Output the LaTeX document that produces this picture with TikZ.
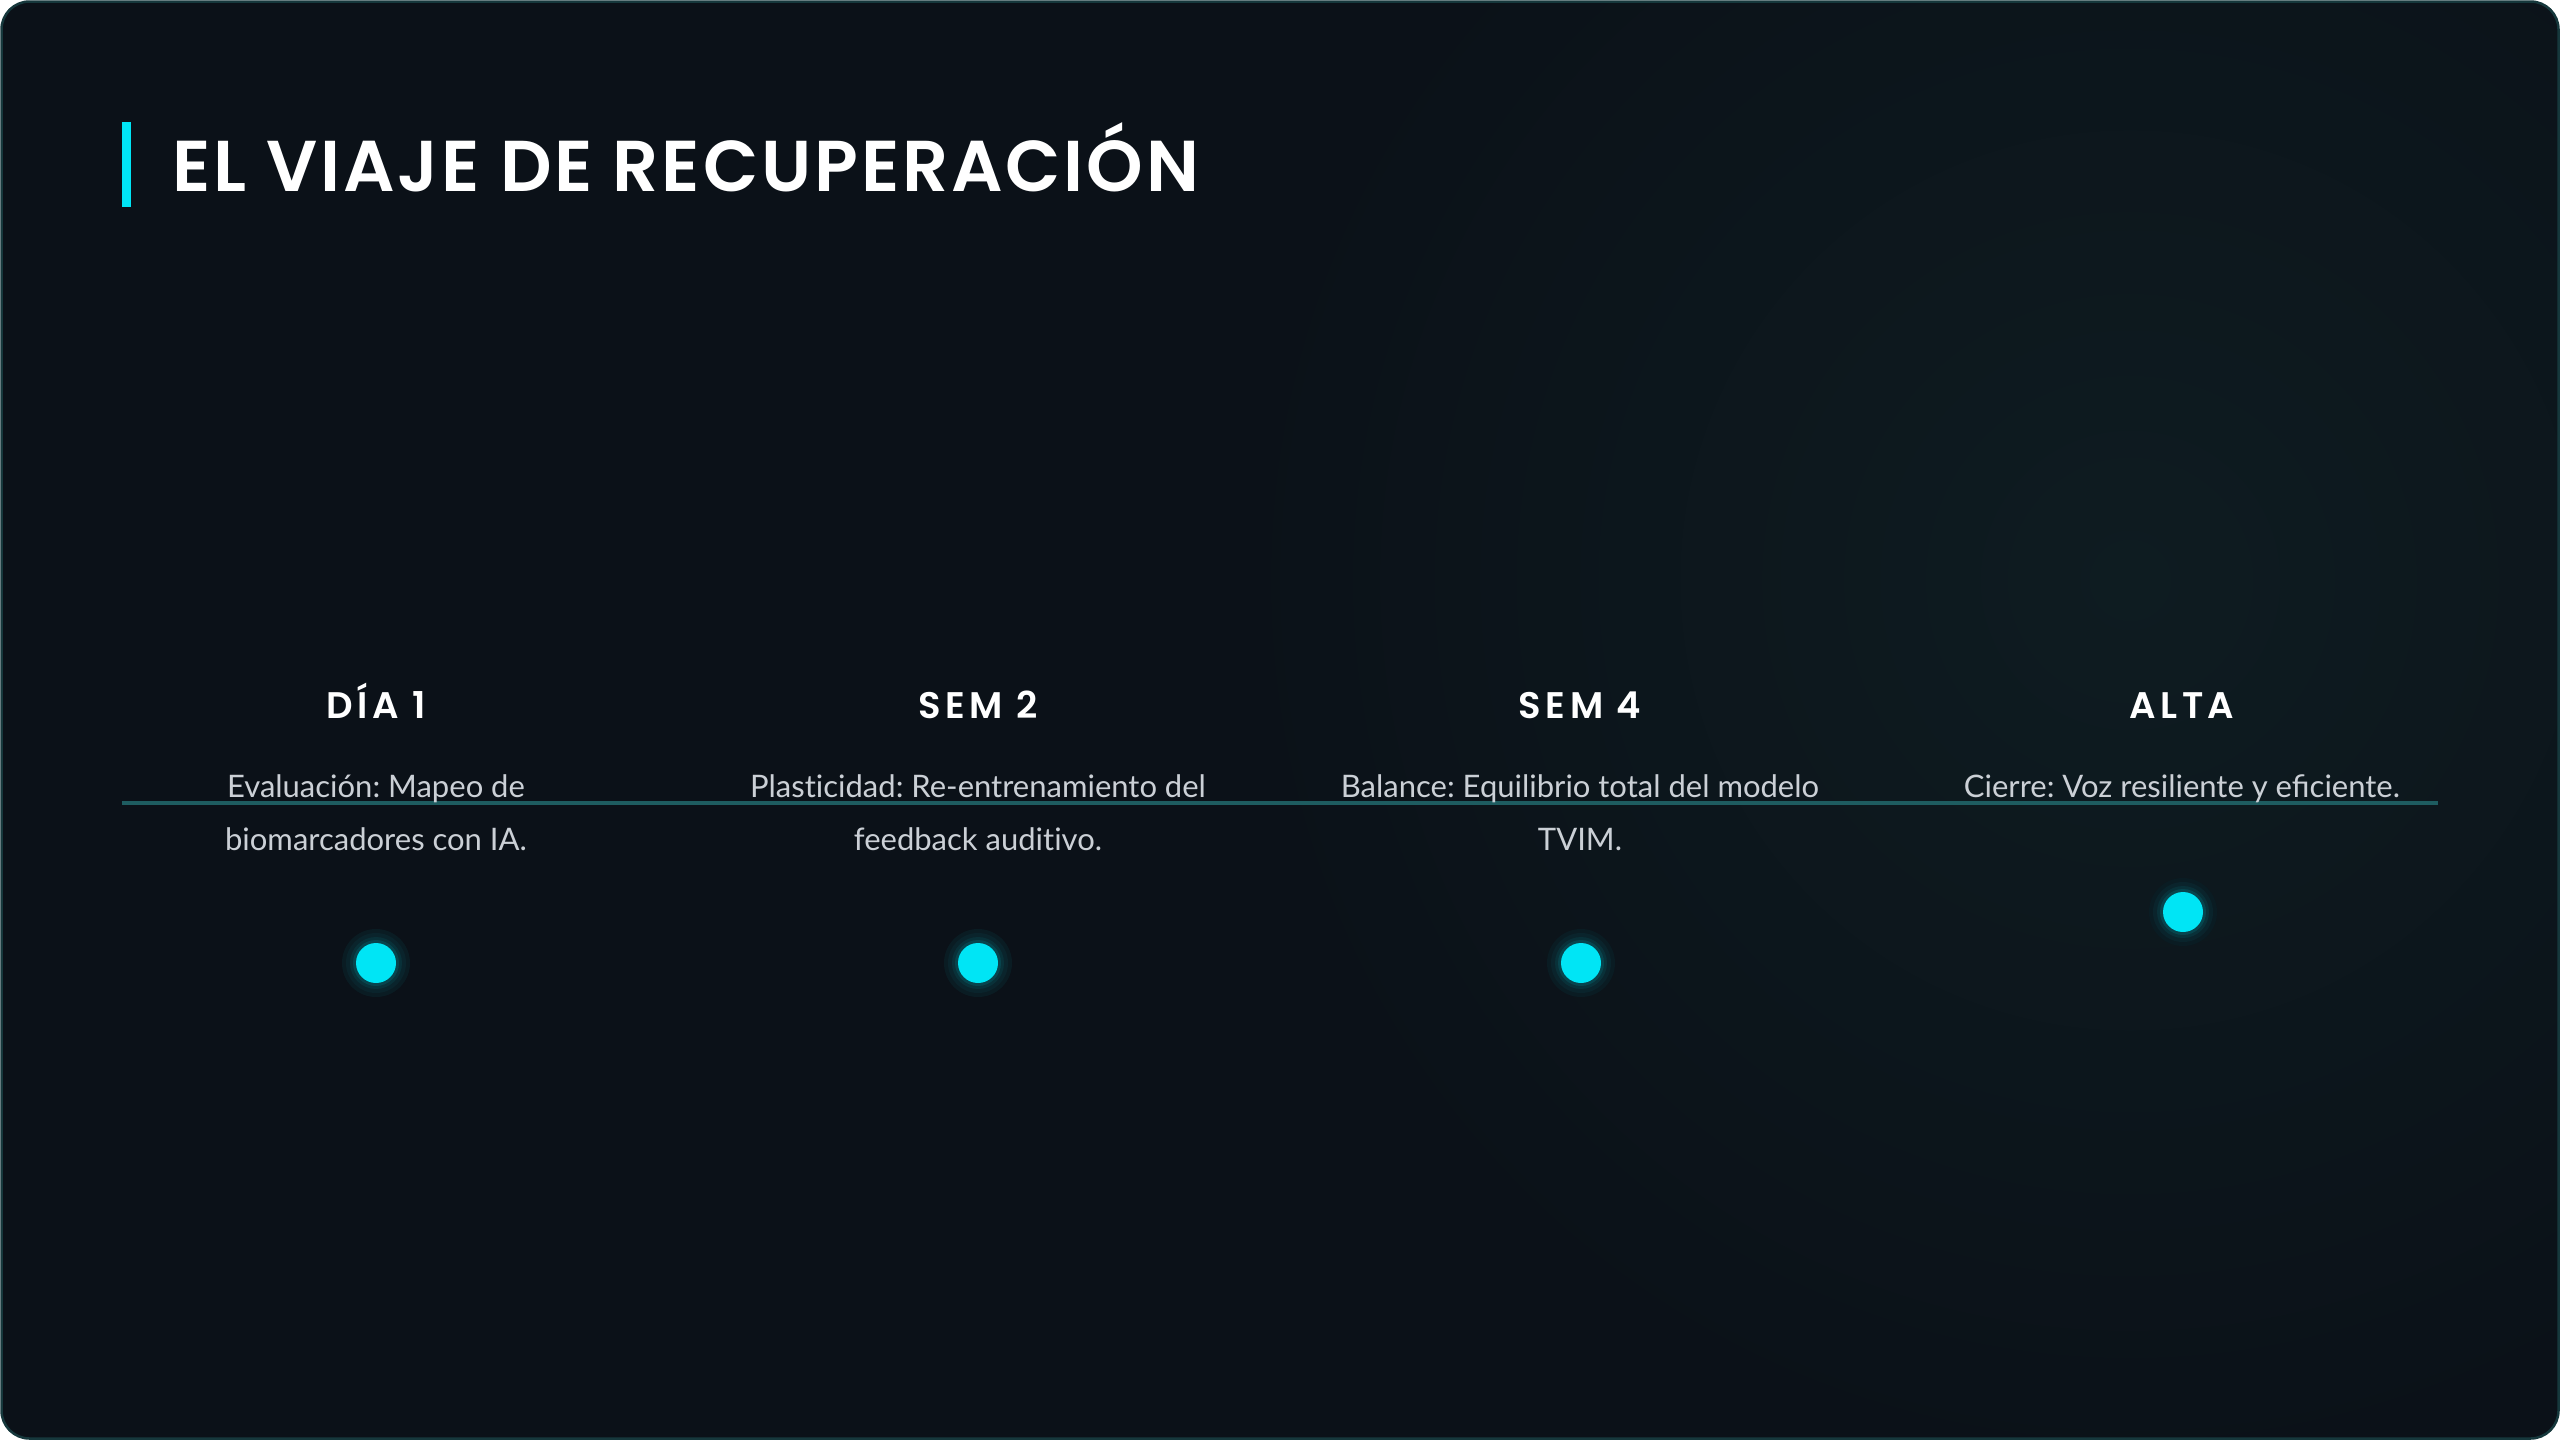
\documentclass[tikz,border=0pt]{standalone}
\usepackage{fontspec}
\setmainfont{Lato}[Ligatures=NoCommon]
\newfontfamily\titlefont{Poppins SemiBold}[LetterSpace=4]
\newfontfamily\headfont{Poppins SemiBold}[LetterSpace=12]
\definecolor{bgc}{HTML}{0B1118}
\definecolor{glowc}{HTML}{0E1C21}
\definecolor{cyanc}{HTML}{00E5F5}
\definecolor{linec}{HTML}{1E5C60}
\definecolor{borderc}{HTML}{16383C}
\definecolor{bodyc}{HTML}{CBD0D6}
\tikzset{
  titletxt/.style={anchor=base west,inner sep=0pt,text=white,font=\titlefont\fontsize{72}{80}\selectfont},
  headtxt/.style={anchor=base,inner sep=0pt,text=white,font=\headfont\fontsize{37}{44}\selectfont},
  bodytxt/.style={anchor=base,inner sep=0pt,text=bodyc,font=\fontsize{31}{53}\selectfont},
  dotc/.style={circle,fill=cyanc,minimum size=40pt,inner sep=0pt}
}
\newcommand{\glowdot}[1]{%
  \fill[cyanc!5!bgc] (#1) circle (34);
  \fill[cyanc!9!bgc] (#1) circle (30);
  \fill[cyanc!15!bgc] (#1) circle (26);
  \fill[cyanc!24!bgc] (#1) circle (23);
}
\begin{document}
\frenchspacing
\begin{tikzpicture}[x=1pt,y=-1pt]
\useasboundingbox (0,0) rectangle (2560,1440);
\fill[white] (0,0) rectangle (2560,1440);
\begin{scope}
\clip[rounded corners=28] (1,1) rectangle (2559,1439);
\fill[bgc] (0,0) rectangle (2560,1440);
\shade[inner color=glowc,outer color=bgc] (2130,580) circle (900);
\end{scope}
\draw[borderc,line width=2.5,rounded corners=28] (1.5,1.5) rectangle (2558.5,1438.5);
% title
\fill[cyanc] (122,122) rectangle (131,207);
\node[titletxt] (title) at (172,191) {EL VIAJE DE RECUPERACIÓN};
% timeline
\coordinate (ls) at (122,803);
\coordinate (le) at (2438,803);
\draw[linec,line width=3.5] (ls) -- (le);
% column 1
\node[headtxt] (h1) at (376,718) {DÍA 1};
\node[bodytxt] (b1a) at (376,797) {Evaluación: Mapeo de};
\node[bodytxt] (b1b) at (376,850) {biomarcadores con IA.};
\glowdot{376,963}
\node[dotc] (p1) at (376,963) {};
% column 2
\node[headtxt] (h2) at (978,718) {SEM 2};
\node[bodytxt] (b2a) at (978,797) {Plasticidad: Re-entrenamiento del};
\node[bodytxt] (b2b) at (978,850) {feedback auditivo.};
\glowdot{978,963}
\node[dotc] (p2) at (978,963) {};
% column 3
\node[headtxt] (h3) at (1580,718) {SEM 4};
\node[bodytxt] (b3a) at (1580,797) {Balance: Equilibrio total del modelo};
\node[bodytxt] (b3b) at (1580,850) {TVIM.};
\glowdot{1581,963}
\node[dotc] (p3) at (1581,963) {};
% column 4
\node[headtxt] (h4) at (2182,718) {ALTA};
\node[bodytxt] (b4a) at (2182,797) {Cierre: Voz resiliente y eﬁciente.};
\glowdot{2183,912}
\node[dotc] (p4) at (2183,912) {};
\end{tikzpicture}
\end{document}
